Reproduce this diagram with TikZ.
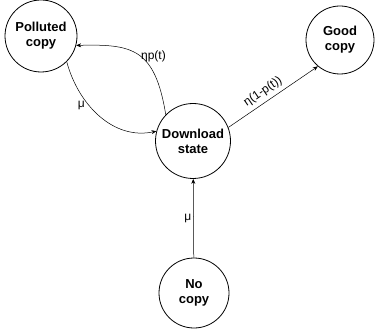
\documentclass[tikz,border=0pt]{standalone}
\usepackage{fontspec}
\setmainfont{Liberation Sans}
\usetikzlibrary{arrows.meta}
\begin{document}
\begin{tikzpicture}[x=1pt,y=-1pt,
  state/.style={circle,draw,line width=0.8pt,minimum size=70pt,inner sep=0pt,
    align=center,font=\fontsize{13}{15}\selectfont\bfseries},
  trans/.style={line width=0.5pt,-{Stealth[length=5pt,width=4pt]}},
  lbl/.style={font=\fontsize{12}{14}\selectfont,inner sep=1pt}]
\useasboundingbox (0,0) rectangle (377,331);
\node[state,minimum size=72pt] (pc) at (41,36) {Polluted\\copy};
\node[state,minimum size=68pt] (gc) at (340,40) {Good\\copy};
\node[state,minimum size=75pt] (ds) at (193,141) {Download\\state};
\node[state,minimum size=70pt] (nc) at (194,293) {No\\copy};
\draw[trans] (nc) -- node[lbl,left=1pt] {μ} (ds);
\draw[trans] (ds.21) -- node[lbl,above=3pt,sloped,pos=0.45] {η(1-p(t))} (gc.-130);
\draw[trans] (ds.136) .. controls (155,48) and (132,44) ..
  node[lbl,pos=0.5,anchor=west,xshift=2pt,yshift=-2pt] {ηp(t)} (pc.-15);
\draw[trans] (pc.-45) to[out=-75,in=192] node[lbl,pos=0.38,left=3pt] {μ} (ds.165);
\end{tikzpicture}
\end{document}
